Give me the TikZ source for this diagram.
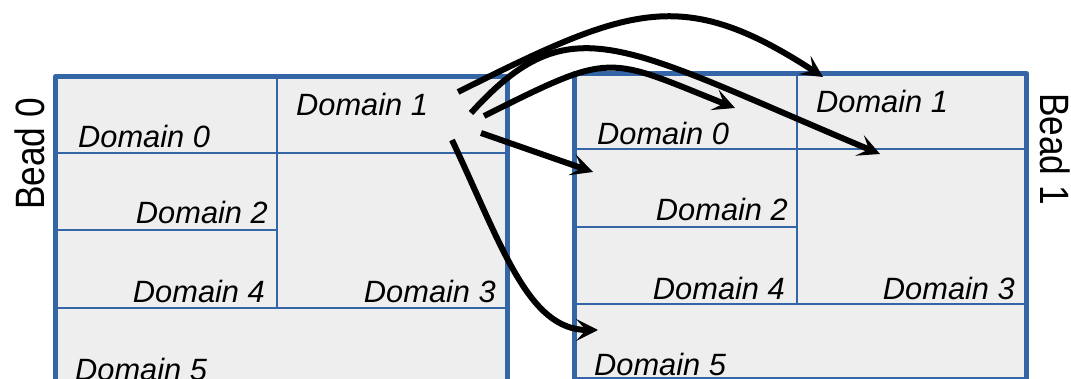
\documentclass[tikz,border=0pt]{standalone}
\usepackage{fontspec}
\setmainfont{Liberation Sans}
\usetikzlibrary{arrows.meta}
\definecolor{beadblue}{HTML}{3465A4}
\definecolor{cellgray}{HTML}{EEEEEE}
\begin{document}
\begin{tikzpicture}[x=1pt,y=-1pt,
  beadframe/.style={draw=beadblue, line width=5pt, line join=round},
  beadfill/.style={fill=cellgray},
  split/.style={draw=beadblue, line width=2pt},
  dom/.style={font=\fontsize{30.8}{36}\selectfont\itshape, inner sep=0pt},
  beadlabel/.style={font=\fontsize{41}{46}\selectfont, inner sep=0pt},
  move/.style={line width=6pt, -{Stealth[length=22pt,width=22pt,inset=10pt]}}
]
\useasboundingbox (0,0) rectangle (1071,379);
\clip (0,0) rectangle (1071,379);

% ---- Bead 0 ----
\fill[beadfill] (55.5,76.5) rectangle (507,430);
\draw[split] (277,76.5) -- (277,307.7);
\draw[split] (55.5,152.7) -- (507,152.7);
\draw[split] (55.5,230.5) -- (277,230.5);
\draw[split] (55.5,307.7) -- (507,307.7);
\draw[beadframe] (55.5,430) -- (55.5,76.5) -- (507,76.5) -- (507,430);

% ---- Bead 1 ----
\fill[beadfill] (574.5,73.5) rectangle (1026.5,379);
\draw[split] (796.7,73.5) -- (796.7,304.5);
\draw[split] (574.5,149.5) -- (1026.5,149.5);
\draw[split] (574.5,226.7) -- (796.7,226.7);
\draw[split] (574.5,304.5) -- (1026.5,304.5);
\draw[beadframe] (574.5,73.5) rectangle (1026.5,379);

% ---- labels ----
\node[beadlabel, rotate=90] (b0) at (30,154) {\scalebox{0.86}[1]{Bead 0}};
\node[beadlabel, rotate=-90] (b1) at (1055,149) {\scalebox{0.86}[1]{Bead 1}};

\node[dom, anchor=base west] (l0) at (78,148) {Domain 0};
\node[dom, anchor=base west] (l1) at (296,116) {Domain 1};
\node[dom, anchor=base east] (l2) at (268,224) {Domain 2};
\node[dom, anchor=base east] (l4) at (265,303) {Domain 4};
\node[dom, anchor=base east] (l3) at (496,303) {Domain 3};
\node[dom, anchor=base west] (l5) at (75,380) {Domain 5};

\node[dom, anchor=base west] (r0) at (597,145) {Domain 0};
\node[dom, anchor=base west] (r1) at (816,113) {Domain 1};
\node[dom, anchor=base east] (r2) at (788,221) {Domain 2};
\node[dom, anchor=base east] (r4) at (785,300) {Domain 4};
\node[dom, anchor=base east] (r3) at (1015,300) {Domain 3};
\node[dom, anchor=base west] (r5) at (594,375) {Domain 5};

% ---- migrations out of Domain 1 of Bead 0 ----
\coordinate (s1) at (458,92);   \coordinate (e1) at (823,77);
\coordinate (s2) at (471,113);  \coordinate (e2) at (880,154);
\coordinate (s3) at (484,116);  \coordinate (e3) at (735,108);
\coordinate (s4) at (481,133);  \coordinate (e4) at (593,172);
\coordinate (s5) at (452,140);  \coordinate (e5) at (598,330);

\draw[move] (s1) .. controls (629,6.5) and (682,-15) .. (e1);
\draw[move] (s2) .. controls (571,3) and (620,45) .. (e2);
\draw[move] (s3) .. controls (614,51) and (605,56) .. (e3);
\draw[move] (s4) -- (e4);
\draw[move] (s5) .. controls (502,246) and (528,330) .. (e5);
\end{tikzpicture}
\end{document}
